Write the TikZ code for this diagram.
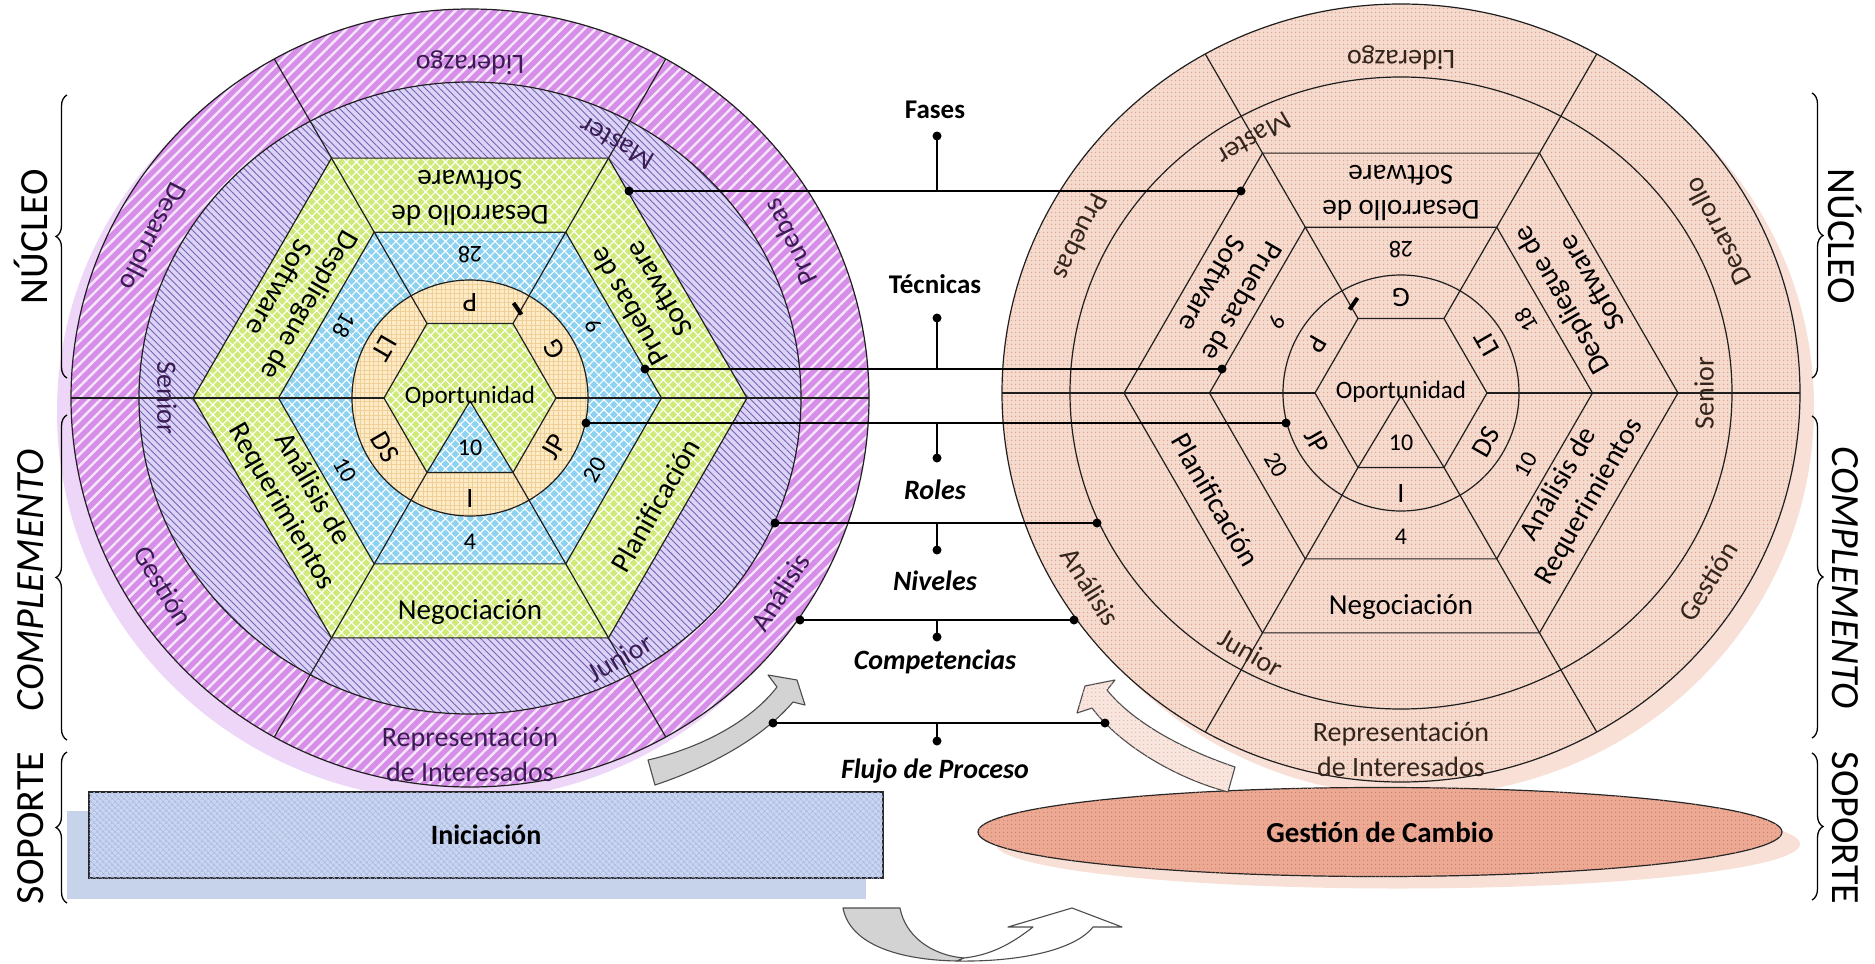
\documentclass[tikz,border=0pt]{standalone}
\usepackage{fontspec}
\setmainfont{Carlito}
\usetikzlibrary{patterns.meta,decorations.pathreplacing,shapes.geometric}

\definecolor{PurpC}{HTML}{D68EE8}
\definecolor{PurpStripe}{HTML}{F6E6FB}
\definecolor{LavC}{HTML}{DCD3F7}
\definecolor{LavLine}{HTML}{7464B4}
\definecolor{GrnC}{HTML}{CFEA78}
\definecolor{BluC}{HTML}{8DD2F0}
\definecolor{OrgC}{HTML}{FCEBC6}
\definecolor{OrgLine}{HTML}{F0CF96}
\definecolor{SalC}{HTML}{F5DACE}
\definecolor{SalDot}{HTML}{E0A08C}
\definecolor{LilShadow}{HTML}{EED6F8}
\definecolor{SalShadow}{HTML}{F8E0D7}
\definecolor{IniC}{HTML}{CAD6F1}
\definecolor{IniLine}{HTML}{A9B9E0}
\definecolor{IniShadow}{HTML}{C6D3EA}
\definecolor{GdcC}{HTML}{ECAA95}
\definecolor{GdcDot}{HTML}{D48069}
\definecolor{ArrGray}{HTML}{D3D3D3}
\definecolor{TxtPurp}{HTML}{3A1C52}
\definecolor{TxtBrown}{HTML}{33241C}

\newcommand\dlab[5]{\node[#5, rotate={\sg*(#2+90)}] (\pf-#1) at (#2:#3) {#4};}

\newcommand\drawdiagram{%
  \fill[sShadow] (-14,-14) ellipse [x radius=399, y radius=389];
  \path[sOuter] (0,0) ellipse [x radius=399, y radius=389];
  \path[sMid] (0,0) ellipse [x radius=331, y radius=316];
  \path[sGrn] (0:277)--(60:277)--(120:277)--(180:277)--(240:277)--(300:277)--cycle;
  \path[sBlu] (0:191.5)--(60:191.5)--(120:191.5)--(180:191.5)--(240:191.5)--(300:191.5)--cycle;
  \path[sOrg] (0,0) circle [radius=118];
  \path[sGrn] (0:86)--(60:86)--(120:86)--(180:86)--(240:86)--(300:86)--cycle;
  \path[sBlu] (0,-3)--(240:86)--(300:86)--cycle;
  \begin{scope}
    \clip (0,0) ellipse [x radius=399, y radius=389];
    \foreach \a in {0,60,...,300} {\draw[ln] (\a:86) -- (\a:470);}
  \end{scope}
  \draw[ln] (0,0) ellipse [x radius=399, y radius=389];
  \draw[ln] (0,0) ellipse [x radius=331, y radius=316];
  \draw[ln] (0:277)--(60:277)--(120:277)--(180:277)--(240:277)--(300:277)--cycle;
  \draw[ln] (0:191.5)--(60:191.5)--(120:191.5)--(180:191.5)--(240:191.5)--(300:191.5)--cycle;
  \draw[ln] (0,0) circle [radius=118];
  \draw[ln] (0:86)--(60:86)--(120:86)--(180:86)--(240:86)--(300:86)--cycle;
  \draw[ln] (240:86) -- (0,-3) -- (300:86);
  \draw[line width=4pt] (43.5,95) -- (51.5,83.5);
  % outer ring
  \dlab{lid}{90}{335}{Liderazgo}{ringtxt}
  \dlab{des}{153}{355}{Desarrollo}{ringtxt}
  \dlab{pru}{26}{356}{Pruebas}{ringtxt}
  \dlab{ana}{328}{366}{Análisis}{ringtxt}
  \dlab{ges}{211.5}{360}{Gestión}{ringtxt}
  \dlab{rep}{270}{356}{Representación\\de Interesados}{ringtxt}
  % middle ring
  \dlab{mas}{60}{294}{Master}{midtxt}
  \dlab{sen}{180}{303}{Senior}{midtxt}
  \dlab{jun}{300}{300}{Junior}{midtxt}
  % hexagon
  \dlab{dsw}{90}{200}{Desarrollo de\\Software}{hextxt}
  \dlab{psw}{30}{200}{Pruebas de\\Software}{hextxt}
  \dlab{dep}{150}{202}{Despliegue de\\Software}{hextxt}
  \dlab{areq}{210}{200}{Análisis de\\Requerimientos}{hextxt}
  \dlab{pla}{330}{214}{Planificación}{hextxt}
  \dlab{neg}{270}{214}{Negociación}{hextxt}
  % numbers
  \dlab{n28}{90}{143}{28}{numtxt}
  \dlab{n9}{30}{143}{9}{numtxt}
  \dlab{n18}{150}{145}{18}{numtxt}
  \dlab{n10}{210}{144}{10}{numtxt}
  \dlab{n20}{330}{144}{20}{numtxt}
  \dlab{n4}{270}{144}{4}{numtxt}
  % letters
  \dlab{lp}{90}{96}{\topLet}{lettxt}
  \dlab{lg}{30}{97}{\rtLet}{lettxt}
  \dlab{llt}{150}{99}{LT}{lettxt}
  \dlab{lds}{210}{98}{DS}{lettxt}
  \dlab{ljp}{330}{97}{JP}{lettxt}
  \dlab{li}{270}{101}{I}{lettxt}
  \node[optxt] (\pf-op) at (0,1) {Oportunidad};
  \node[numtxt] (\pf-ten) at (0,-50) {10};
}

\begin{document}
\begin{tikzpicture}[x=1pt,y=-1pt,
  ln/.style={draw=black!88, line width=1.2pt},
  purp/.style={fill=PurpC, postaction={pattern={Lines[angle=45,distance=8pt,line width=2.4pt]}, pattern color=PurpStripe}},
  lav/.style={fill=LavC, postaction={pattern={Lines[angle=-45,distance=5pt,line width=0.9pt]}, pattern color=LavLine}},
  grn/.style={fill=GrnC, postaction={pattern={Hatch[angle=45,distance=7pt,line width=1.1pt]}, pattern color=white}},
  blu/.style={fill=BluC, postaction={pattern={Hatch[angle=45,distance=7pt,line width=1.1pt]}, pattern color=white}},
  org/.style={fill=OrgC, postaction={pattern={Hatch[angle=0,distance=4.5pt,line width=.5pt]}, pattern color=OrgLine}},
  sal/.style={fill=SalC, postaction={pattern={Dots[distance=4pt,radius=.9pt]}, pattern color=SalDot}},
  ringtxt/.style={font=\fontsize{28}{35}\selectfont, text=RingTxt, inner sep=0pt, align=center},
  midtxt/.style={font=\fontsize{28}{34}\selectfont, text=RingTxt, inner sep=0pt},
  hextxt/.style={font=\fontsize{29}{35}\selectfont, inner sep=0pt, align=center},
  numtxt/.style={font=\fontsize{24}{28}\selectfont, inner sep=0pt},
  lettxt/.style={font=\fontsize{28}{30}\selectfont, inner sep=0pt},
  optxt/.style={font=\fontsize{25}{30}\selectfont, inner sep=0pt},
  midlab/.style={font=\bfseries\fontsize{27}{30}\selectfont, inner sep=0pt},
  midlabi/.style={font=\bfseries\itshape\fontsize{28}{30}\selectfont, inner sep=0pt},
  dot/.style={circle, fill=black, inner sep=0pt, minimum size=9pt},
  cline/.style={draw=black, line width=1.4pt},
  bracetxt/.style={font=\fontsize{40}{44}\selectfont, inner sep=0pt},
  brc/.style={draw=black, line width=1.3pt, decorate, decoration={brace, amplitude=11pt}},
  garrow/.style={fill=ArrGray, draw=black!70, line width=1.1pt, line join=round},
  warrow/.style={fill=white, draw=black!70, line width=1.1pt, line join=round},
  sarrow/.style={fill=SalC!70!white, postaction={pattern={Dots[distance=4pt,radius=.8pt]}, pattern color=SalDot!70!white}, draw=black!70, line width=1.1pt, line join=round}
]
\useasboundingbox (0,0) rectangle (1875,964);
\fill[white] (0,0) rectangle (1875,964);

% ---------------- left diagram
\begin{scope}[shift={(470,398)}, yscale=-1]
  \tikzset{sShadow/.style={fill=LilShadow}, sOuter/.style={purp}, sMid/.style={lav},
    sGrn/.style={grn}, sBlu/.style={blu}, sOrg/.style={org}}
  \colorlet{RingTxt}{TxtPurp}
  \def\sg{1}\def\pf{L}\def\topLet{P}\def\rtLet{G}
  \drawdiagram
\end{scope}

% ---------------- right diagram
\begin{scope}[shift={(1401,393)}, xscale=-1, yscale=-1]
  \tikzset{sShadow/.style={fill=SalShadow}, sOuter/.style={sal}, sMid/.style={sal},
    sGrn/.style={sal}, sBlu/.style={sal}, sOrg/.style={sal}}
  \colorlet{RingTxt}{TxtBrown}
  \def\sg{-1}\def\pf{R}\def\topLet{G}\def\rtLet{P}
  \drawdiagram
\end{scope}

% ---------------- support boxes
\fill[IniShadow] (67,811) rectangle (866,899);
\node[draw=black!85, line width=1.2pt, fill=IniC, postaction={pattern={Hatch[angle=45,distance=4pt,line width=.5pt]}, pattern color=IniLine},
  minimum width=794pt, minimum height=86pt, inner sep=0pt, font=\bfseries\fontsize{28}{32}\selectfont] (ini) at (486,835) {Iniciación};
\fill[SalShadow] (1398,844) ellipse [x radius=402, y radius=44.5];
\node[ellipse, draw=black!85, line width=1.2pt, fill=GdcC, postaction={pattern={Dots[distance=4pt,radius=.8pt]}, pattern color=GdcDot},
  minimum width=804pt, minimum height=89pt, inner sep=0pt, font=\bfseries\fontsize{29}{32}\selectfont] (gdc) at (1380,832) {Gestión de Cambio};

% ---------------- curved arrows
\path[garrow] (648,760) .. controls (700,748) and (750,722) .. (777,687) -- (768,675) -- (797,680) -- (805,705) -- (793,702) .. controls (765,735) and (715,765) .. (655,785) -- cycle;
\path[sarrow] (1235,767) .. controls (1190,752) and (1135,725) .. (1107,690) -- (1115,680) -- (1085,686) -- (1077,713) -- (1092,708) .. controls (1120,745) and (1175,778) .. (1228,792) -- cycle;
\path[garrow] (843,908) -- (900,908) .. controls (905,935) and (930,955) .. (964,958) -- (957,961) .. controls (900,960) and (850,945) .. (843,908) -- cycle;
\path[warrow] (957,961) .. controls (1020,962) and (1075,950) .. (1093,927) -- (1122,927) -- (1072,908) -- (1008,927) -- (1033,927) .. controls (1010,945) and (990,955) .. (964,958) -- cycle;

% ---------------- central labels and connectors
\node[midlab] (tFas) at (935,110) {Fases};
\node[midlab] (tTec) at (935,284) {Técnicas};
\node[midlabi] (tRol) at (935,490) {Roles};
\node[midlabi] (tNiv) at (935,581) {Niveles};
\node[midlabi] (tCom) at (935,662) {Competencias};
\node[midlabi] (tFlu) at (935,771) {Flujo de Proceso};

\node[dot] (dFas) at (937,136) {};
\node[dot] (dTec) at (937,318) {};
\node[dot] (dRol) at (937,458) {};
\node[dot] (dNiv) at (937,550) {};
\node[dot] (dCom) at (937,637) {};
\node[dot] (dFlu) at (937,741) {};

\coordinate (jFas) at (937,191);
\coordinate (jTec) at (937,369);
\coordinate (jRol) at (937,423);
\coordinate (jNiv) at (937,523);
\coordinate (jCom) at (937,620);
\coordinate (jFlu) at (937,723);

\node[dot] (lFas) at (629,191) {};
\node[dot] (rFas) at (1241,191) {};
\node[dot] (lTec) at (645,369) {};
\node[dot] (rTec) at (1222,369) {};
\node[dot] (lRol) at (586,423) {};
\node[dot] (rRol) at (1286,423) {};
\node[dot] (lNiv) at (775,523) {};
\node[dot] (rNiv) at (1097,523) {};
\node[dot] (lCom) at (800,620) {};
\node[dot] (rCom) at (1074,620) {};
\node[dot] (lFlu) at (773,723) {};
\node[dot] (rFlu) at (1105,723) {};

\foreach \n in {Fas,Tec,Rol,Niv,Com,Flu} {
  \draw[cline] (l\n.center) -- (r\n.center);
  \draw[cline] (j\n) -- (d\n.center);
}

% ---------------- braces
\coordinate (bLN1) at (67,378); \coordinate (bLN2) at (67,95);
\coordinate (bLC1) at (67,740); \coordinate (bLC2) at (67,415);
\coordinate (bLS1) at (67,903); \coordinate (bLS2) at (67,752);
\coordinate (bRN1) at (1812,93); \coordinate (bRN2) at (1812,378);
\coordinate (bRC1) at (1812,416); \coordinate (bRC2) at (1812,738);
\coordinate (bRS1) at (1812,753); \coordinate (bRS2) at (1812,900);
\draw[brc] (bLN1) -- (bLN2);
\draw[brc] (bLC1) -- (bLC2);
\draw[brc] (bLS1) -- (bLS2);
\draw[brc] (bRN1) -- (bRN2);
\draw[brc] (bRC1) -- (bRC2);
\draw[brc] (bRS1) -- (bRS2);
\node[bracetxt, rotate=90] (kLN) at (31,237) {NÚCLEO};
\node[bracetxt, rotate=90, font=\itshape\fontsize{40}{44}\selectfont] (kLC) at (31,580) {COMPLEMENTO};
\node[bracetxt, rotate=90] (kLS) at (31,828) {SOPORTE};
\node[bracetxt, rotate=-90] (kRN) at (1845,236) {NÚCLEO};
\node[bracetxt, rotate=-90, font=\itshape\fontsize{40}{44}\selectfont] (kRC) at (1845,578) {COMPLEMENTO};
\node[bracetxt, rotate=-90] (kRS) at (1845,828) {SOPORTE};
\end{tikzpicture}
\end{document}
